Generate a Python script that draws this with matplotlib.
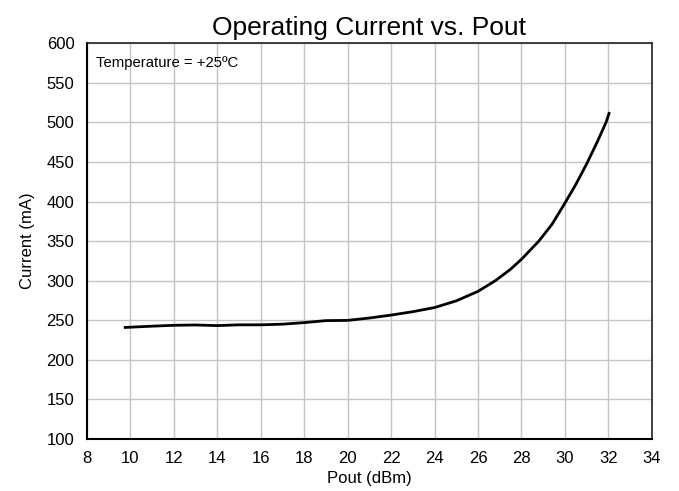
import numpy as np
import matplotlib
matplotlib.use('Agg')
import matplotlib.pyplot as plt

# values
pout_dbm = [9.7, 11.0, 12.0, 13.0, 14.0, 15.0, 16.0, 17.0, 18.0, 19.0, 20.0,
            21.0, 22.0, 23.0, 24.0, 25.0, 26.0, 26.8, 27.5, 28.0, 28.8, 29.4,
            30.0, 30.5, 31.0, 31.5, 31.9, 32.05]
current_ma = [240.8, 242.5, 243.6, 244.0, 243.2, 244.2, 244.2, 245.0, 247.0, 249.5, 249.8,
              252.8, 256.5, 260.8, 266.0, 274.5, 286.5, 300.0, 314.5, 327.0, 350.0, 371.0,
              398.0, 421.5, 447.5, 476.0, 500.5, 513.0]
x_ticks = np.arange(8, 35, 2)
y_ticks = np.arange(100, 601, 50)

plt.rcParams['font.family'] = ['Liberation Sans', 'DejaVu Sans']

fig = plt.figure(figsize=(6.79, 4.91), dpi=100)
ax = fig.add_axes([0.128, 0.106, 0.832, 0.806])

ax.plot(pout_dbm, current_ma, color='black', linewidth=2.0, solid_capstyle='butt')

ax.set_xlim(8, 34)
ax.set_ylim(100, 600)
ax.set_xticks(x_ticks)
ax.set_yticks(y_ticks)
ax.grid(True, color='#c4c4c4', linewidth=1.0)
ax.set_axisbelow(True)
ax.tick_params(length=0, labelsize=12, pad=9)
for side in ['left', 'bottom']:
    ax.spines[side].set_linewidth(1.5)
for side in ['top', 'right']:
    ax.spines[side].set_linewidth(1.2)
    ax.spines[side].set_color('#222222')

ax.set_xlabel('Pout (dBm)', fontsize=12, labelpad=3)
ax.set_ylabel('Current (mA)', fontsize=12, labelpad=8)
ax.set_title('Operating Current vs. Pout', fontsize=19, pad=6)
ax.text(0.016, 0.968, 'Temperature = +25ºC', transform=ax.transAxes,
        fontsize=10.7, va='top', ha='left')

fig.savefig('out.png', dpi=100)
